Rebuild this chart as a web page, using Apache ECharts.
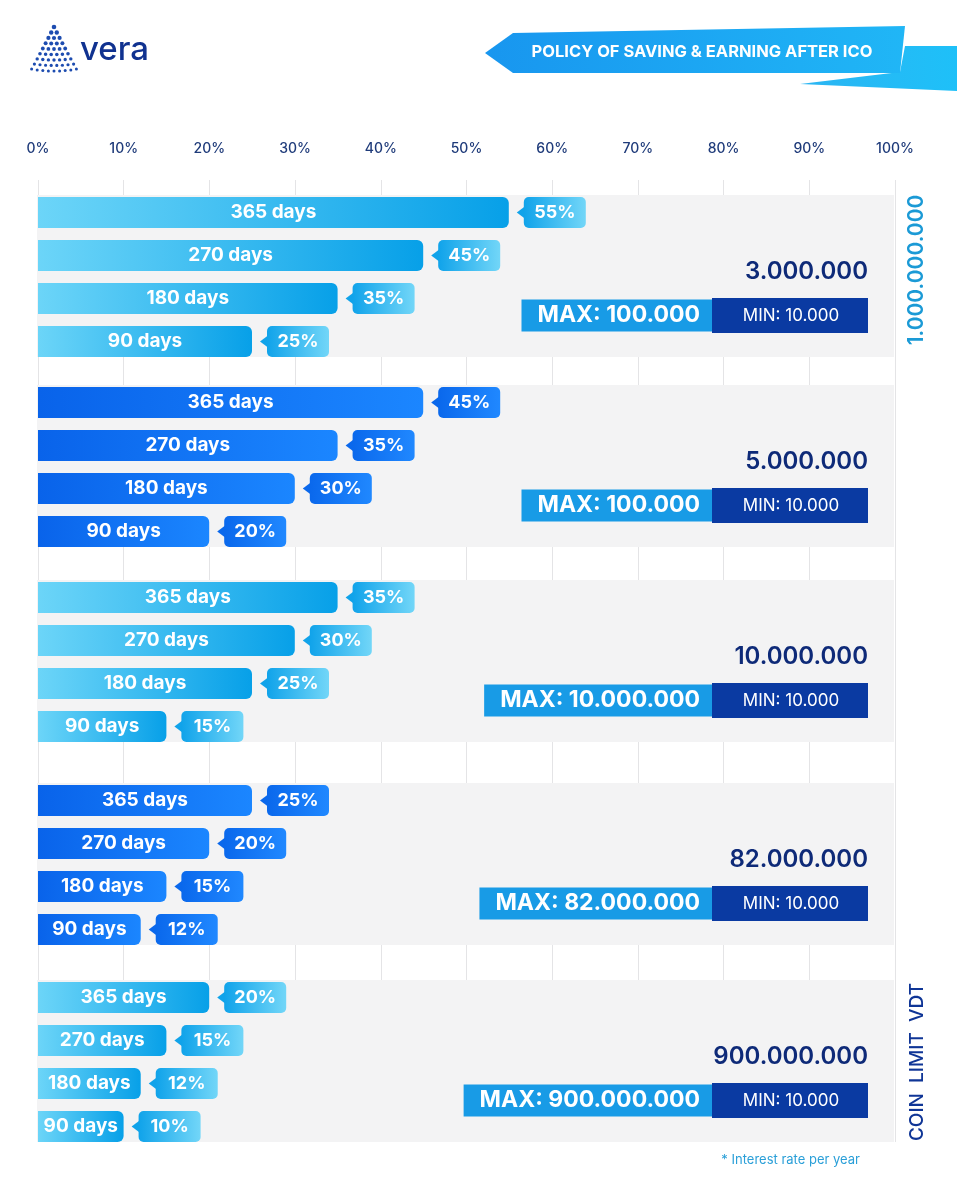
<!DOCTYPE html>
<html lang="en">
<head>
<meta charset="UTF-8">
<title>Policy of saving & earning after ICO</title>
<script src="https://cdn.jsdelivr.net/npm/echarts@6/dist/echarts.min.js"></script>
<style>
  html, body { margin: 0; padding: 0; background: #fff; }
  #main { width: 957px; height: 1200px; }
</style>
</head>
<body>
<div id="main"></div>
<script>
// data
var days = ['365 days', '270 days', '180 days', '90 days'];
var rates = [
  [55, 45, 35, 25],
  [45, 35, 30, 20],
  [35, 30, 25, 15],
  [25, 20, 15, 12],
  [20, 15, 12, 10]
];
var coinLimits = ['3.000.000', '5.000.000', '10.000.000', '82.000.000', '900.000.000'];
var maxAmounts = ['100.000', '100.000', '10.000.000', '82.000.000', '900.000.000'];
var minAmount = '10.000';

// layout of the five grey bands
var bandTop = [195, 385, 580, 783, 980];
var bandH = 162;
var font = 'Inter, Roboto, sans-serif';

function grad(a, b) {
  return new echarts.graphic.LinearGradient(0, 0, 1, 0, [
    { offset: 0, color: a }, { offset: 1, color: b }
  ]);
}
var light = { bar: ['#6cd5f8', '#07a0e8'], box: ['#10a3ea', '#72d6f8'] };
var dark = { bar: ['#0963ea', '#1b86ff'], box: ['#0a68ec', '#2088ff'] };

var grids = [{ left: 38, right: 62, top: 180, bottom: 58, show: false }];
var xAxes = [{
  gridIndex: 0, type: 'value', position: 'top', min: 0, max: 100, interval: 10, z: 0,
  axisLine: { show: false }, axisTick: { show: false },
  axisLabel: { formatter: '{value}%', color: '#1f3b7a', fontSize: 14, fontWeight: 500, fontFamily: font, margin: 24 },
  splitLine: { show: true, lineStyle: { color: '#e4e4e6', width: 1 } }
}];
var yAxes = [{ gridIndex: 0, type: 'value', show: false }];
var series = [];
var graphics = [];

rates.forEach(function (vals, i) {
  var g = i + 1;
  var t = bandTop[i];
  var pal = (i % 2 === 1) ? dark : light;
  grids.push({ left: 38, right: 63, top: t - 4, height: 172, show: false });
  xAxes.push({ gridIndex: g, type: 'value', min: 0, max: 100, show: false });
  yAxes.push({ gridIndex: g, type: 'category', data: days, inverse: true, show: false });

  // grey band behind the group
  graphics.push({ type: 'rect', z: 1, shape: { x: 37, y: t, width: 857, height: bandH },
    style: { fill: '#f3f3f4' } });

  series.push({
    type: 'bar', xAxisIndex: g, yAxisIndex: g, data: vals, barWidth: 31, z: 3,
    itemStyle: { color: grad(pal.bar[0], pal.bar[1]), borderRadius: [0, 6, 6, 0] },
    label: { show: true, position: 'inside', formatter: '{b}', color: '#fff',
      fontSize: 19, fontWeight: 'bold', fontFamily: font }
  });

  series.push({
    type: 'custom', xAxisIndex: g, yAxisIndex: g, z: 3,
    data: vals.map(function (v, j) { return [v, j]; }),
    encode: { x: 0, y: 1 },
    renderItem: function (params, api) {
      var v = api.value(0);
      var p = api.coord([v, api.value(1)]);
      var x0 = p[0] + 15, w = 62, h = 31, y = p[1];
      return {
        type: 'group',
        children: [
          { type: 'polygon', shape: { points: [[x0 + 1, y - 6], [x0 - 7, y], [x0 + 1, y + 6]] },
            style: { fill: pal.box[0] } },
          { type: 'rect', shape: { x: x0, y: y - h / 2, width: w, height: h, r: 5 },
            style: { fill: grad(pal.box[0], pal.box[1]) } },
          { type: 'text', style: { text: v + '%', x: x0 + w / 2, y: y, align: 'center',
            verticalAlign: 'middle', fill: '#fff', font: 'bold 18px ' + font } }
        ]
      };
    }
  });

  graphics.push({
    type: 'text', z: 5, x: 868, y: t + 77,
    style: { text: coinLimits[i], fill: '#0e2a78', font: '600 24px ' + font, align: 'right', verticalAlign: 'middle' }
  });
  graphics.push({
    type: 'rect', z: 5, shape: { x: 712, y: t + 103, width: 156, height: 35 },
    style: { fill: '#0a3aa2' }
  });
  graphics.push({
    type: 'text', z: 6, x: 791, y: t + 120.5,
    style: { text: 'MIN: ' + minAmount, fill: '#fff', font: '17px ' + font, align: 'center', verticalAlign: 'middle' }
  });
  graphics.push({
    type: 'text', z: 6, x: 712, y: t + 120.5,
    style: { text: 'MAX: ' + maxAmounts[i], fill: '#fff', font: 'bold 23px ' + font,
      align: 'right', verticalAlign: 'middle', backgroundColor: '#189be6',
      padding: [5, 12, 4, 16] }
  });
});

// header banner
graphics.push({ type: 'polygon', z: 5, shape: { points: [[800, 84], [900, 72], [905, 46], [957, 46], [957, 91]] },
  style: { fill: grad('#2bb5f3', '#1ec0f8') } });
graphics.push({ type: 'polygon', z: 6, shape: { points: [[485, 53], [513, 33], [905, 26], [900, 73], [513, 73]] },
  style: { fill: grad('#1896ef', '#20b6f6') } });
graphics.push({ type: 'text', z: 7, x: 702, y: 52,
  style: { text: 'POLICY OF SAVING & EARNING AFTER ICO', fill: '#fff', font: 'bold 16.5px ' + font,
    align: 'center', verticalAlign: 'middle' } });

// logo
for (var r = 0; r < 9; r++) {
  for (var c = 0; c <= r; c++) {
    var d = c - r / 2;
    var cx = 54 + d * 5.6;
    var cy = 27 + r * 5.5 - d * d * 0.12;
    graphics.push({ type: 'circle', z: 5, shape: { cx: cx, cy: cy, r: 2.3 - r * 0.1 }, style: { fill: '#1d4cb0' } });
  }
}
graphics.push({ type: 'text', z: 5, x: 80, y: 50,
  style: { text: 'vera', fill: '#103290', font: '500 33px ' + font, verticalAlign: 'middle' } });

// right side labels
graphics.push({ type: 'text', z: 5, x: 917, y: 270, rotation: Math.PI / 2,
  style: { text: '1.000.000.000', fill: '#1b9ad6', font: '600 21px ' + font, align: 'center', verticalAlign: 'middle' } });
graphics.push({ type: 'text', z: 5, x: 917, y: 1062, rotation: Math.PI / 2,
  style: { text: 'COIN  LIMIT  VDT', fill: '#0f3596', font: '500 19px ' + font, align: 'center', verticalAlign: 'middle' } });

// footnote
graphics.push({ type: 'text', z: 5, x: 860, y: 1160,
  style: { text: '* Interest rate per year', fill: '#2a9fd8', font: '13px ' + font, align: 'right', verticalAlign: 'middle' } });

var chart = echarts.init(document.getElementById('main'));
chart.setOption({
  animation: false,
  backgroundColor: '#fff',
  grid: grids,
  xAxis: xAxes,
  yAxis: yAxes,
  series: series,
  graphic: graphics
});
</script>
</body>
</html>
